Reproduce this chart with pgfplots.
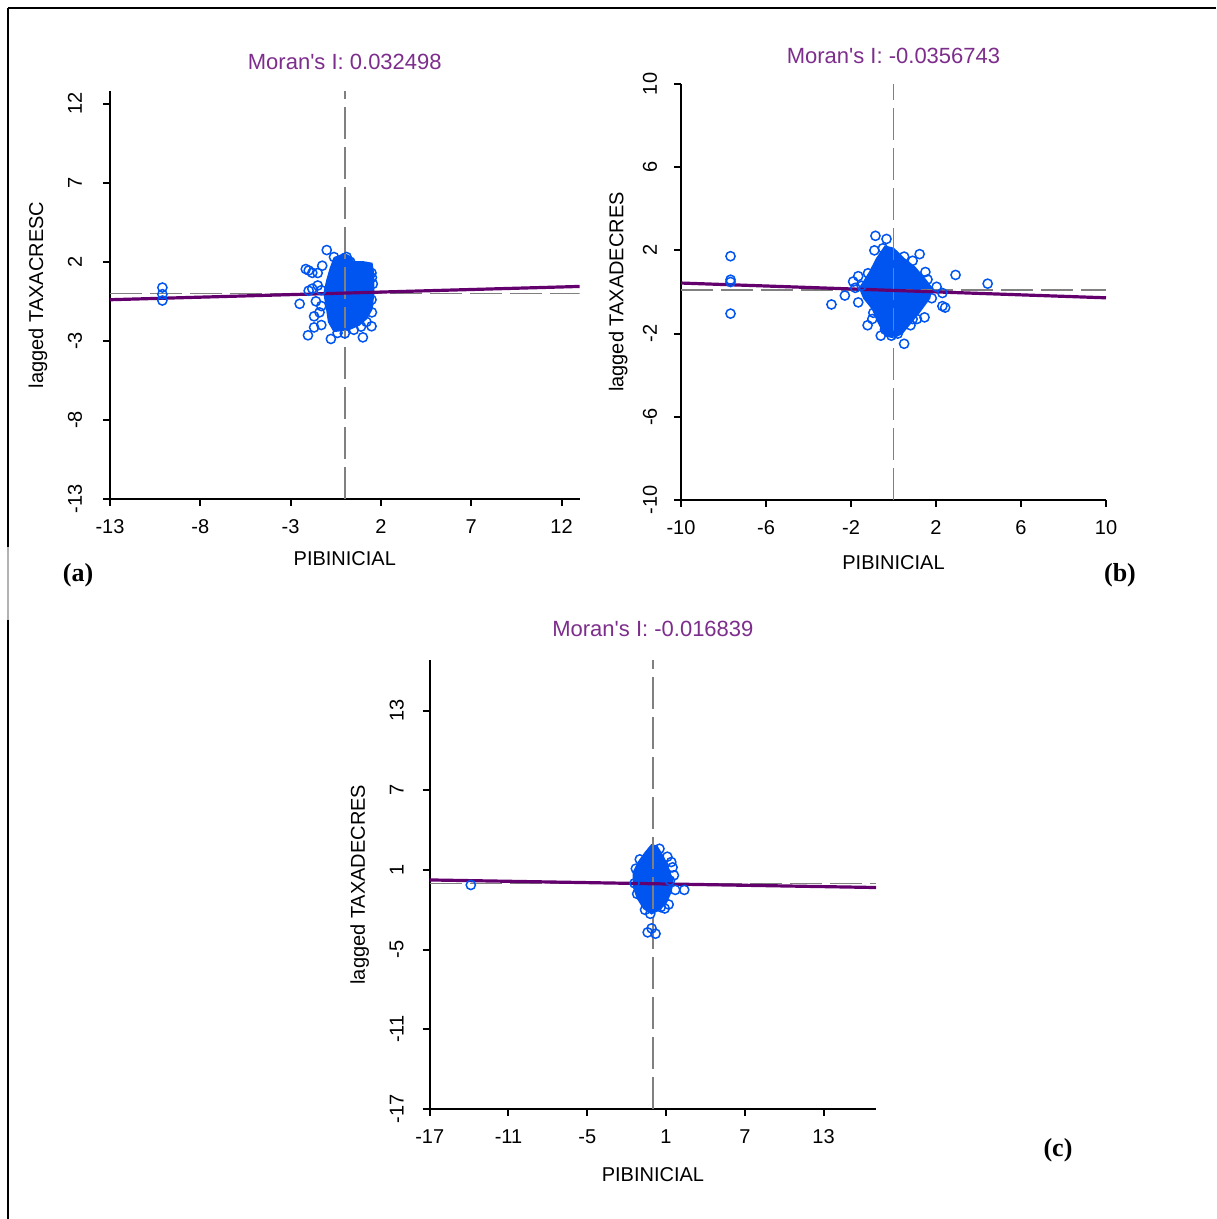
\documentclass[border=0pt]{standalone}
\usepackage{fontspec}
\setmainfont{Liberation Sans}
\newfontfamily\serifb{Liberation Serif}
\usepackage{pgfplots}
\pgfplotsset{compat=1.18}
\definecolor{ptblue}{RGB}{0,85,240}
\definecolor{regline}{RGB}{100,0,110}
\definecolor{ttl}{RGB}{125,45,140}
\definecolor{refgray}{RGB}{128,128,128}

\pgfplotsset{
  moran/.style={
    scale only axis,
    axis x line*=bottom, axis y line*=left,
    axis line style={-, line width=1pt},
    tick align=outside, major tick length=3.5pt,
    tick style={line width=1pt, black},
    /pgf/number format/assume math mode=true,
    tick label style={font=\fontsize{10}{12}\selectfont},
    label style={font=\fontsize{10}{12}\selectfont},
    title style={font=\fontsize{11}{13}\selectfont, text=ttl, at={(axis description cs:0.5,1)}, anchor=center},
    xlabel style={at={(axis description cs:0.5,0)}, anchor=center},
    xticklabel style={anchor=center, yshift=-10.5pt},
  },
  pts/.style={only marks, mark=o, mark size=2.3pt, ptblue, line width=0.75pt},
  blob/.style={fill=ptblue, draw=ptblue, line width=0.7pt},
  ref/.style={refgray, line width=0.75pt, dash pattern=on 16pt off 4pt},
  reg/.style={regline, line width=1.6pt},
}

\begin{document}
\begin{tikzpicture}
\useasboundingbox (0,0) rectangle (608pt,609.5pt);
% page frame
\draw[line width=1.2pt] (4pt,605.5pt) -- (608pt,605.5pt);
\draw[line width=1.2pt] (4pt,605.5pt) -- (4pt,336pt);
\draw[line width=0.6pt, gray!60] (4pt,336pt) -- (4pt,299.5pt);
\draw[line width=1.2pt] (4pt,299.5pt) -- (4pt,0pt);

% (a)
\begin{axis}[moran, at={(55pt,360pt)}, anchor=south west,
  width=234.8pt, height=204pt,
  xmin=-13, xmax=13, ymin=-13, ymax=12.8,
  xtick={-13,-8,-3,2,7,12}, ytick={-13,-8,-3,2,7,12},
  title={Moran\textquotesingle s I: 0.032498}, title style={yshift=8.5pt},
  xlabel={PIBINICIAL}, xlabel style={yshift=-30pt},
  ylabel={lagged TAXACRESC}, ylabel style={at={(axis description cs:-0.1533,0.5)}, anchor=center},
  yticklabel style={anchor=center, xshift=-14pt, rotate=90}]
\addplot[blob] coordinates {(-0.1,2.5)(0.2,2.4)(0.5,2.0)(1.0,2.0)(1.5,1.9)(1.6,1.2)(1.6,0.0)(1.5,-1.0)(1.2,-1.6)(0.8,-2.0)(0.2,-2.3)(-0.6,-2.4)(-0.9,-1.8)(-1.0,-1.0)(-1.15,0.0)(-1.0,0.8)(-0.8,1.6)(-0.6,2.2)} -- cycle;
\addplot[pts] coordinates {
(-10.1,0.37)(-10.1,-0.05)(-10.1,-0.45)
(-1.0,2.74)(-2.16,1.54)(-2.0,1.45)(-1.8,1.3)(-1.5,1.29)(-1.25,1.75)(-0.6,2.3)(-0.4,2.05)(0.1,2.3)(0.3,2.0)
(1.0,1.67)(1.3,1.5)(1.48,1.29)(1.5,1.0)(1.55,0.6)
(-2.0,0.17)(-1.8,0.3)(-1.5,0.5)(-1.3,0.2)(-2.5,-0.66)(-1.6,-0.5)(-1.3,-0.8)(-1.7,-1.45)(-1.4,-1.2)
(-1.7,-2.15)(-1.3,-2.0)(-2.04,-2.65)(-0.77,-2.88)(-0.4,-2.5)(0.0,-2.53)(0.5,-2.3)(1.0,-2.78)(1.48,-2.08)
(1.2,-1.8)(1.48,-0.4)(1.5,-1.2)(1.3,-0.7)(0.9,-2.1)};
\addplot[ref] coordinates {(0,-13)(0,12.8)};
\addplot[ref] coordinates {(-13,0)(13,0)};
\addplot[reg] coordinates {(-13,-0.40)(13,0.44)};
\end{axis}

% (b)
\begin{axis}[moran, at={(340.5pt,359.5pt)}, anchor=south west,
  width=212.5pt, height=208pt,
  xmin=-10, xmax=10, ymin=-10, ymax=10,
  xtick={-10,-6,-2,2,6,10}, ytick={-10,-6,-2,2,6,10},
  title={Moran\textquotesingle s I: -0.0356743}, title style={yshift=8pt},
  xlabel={PIBINICIAL}, xlabel style={yshift=-31.5pt},
  ylabel={lagged TAXADECRES}, ylabel style={at={(axis description cs:-0.148,0.5)}, anchor=center},
  yticklabel style={anchor=center, xshift=-12pt, rotate=90}]
\addplot[blob] coordinates {(-0.4,2.2)(0.0,2.1)(0.5,1.6)(1.0,1.2)(1.5,0.6)(1.8,0.2)(1.7,-0.3)(1.2,-1.0)(0.8,-1.5)(0.4,-2.0)(0.0,-2.2)(-0.4,-2.1)(-0.7,-1.5)(-1.0,-0.8)(-1.4,-0.3)(-1.6,0.2)(-1.4,0.5)(-1.1,1.0)(-0.8,1.6)} -- cycle;
\addplot[pts] coordinates {
(-7.67,1.72)(-7.67,0.59)(-7.67,0.48)(-7.67,-1.04)(2.92,0.82)(4.43,0.4)(-2.92,-0.6)(-2.29,-0.17)
(-1.22,-1.6)(0.5,-2.49)(-0.85,2.7)(-0.33,2.55)(-0.9,2.0)(-0.5,2.1)(0.5,1.7)(0.9,1.5)(1.23,1.82)
(-1.66,0.76)(-1.9,0.5)(-1.66,-0.5)(2.43,-0.75)(2.3,-0.68)(1.46,-1.22)(0.9,-1.3)(1.1,-1.3)(-0.95,-1.0)
(2.03,0.25)(2.3,-0.05)(1.5,0.96)(1.6,0.6)(-1.5,0.3)(-1.8,0.2)(-1.0,-1.3)(-0.4,-1.8)(-0.1,-2.1)
(0.2,-2.0)(0.8,-1.6)(1.8,-0.3)(-0.6,-2.1)(-1.2,0.9)};
\addplot[ref] coordinates {(0,-10)(0,10)};
\addplot[ref] coordinates {(-10,0.1)(10,0.1)};
\addplot[reg] coordinates {(-10,0.43)(10,-0.28)};
\end{axis}

% (c)
\begin{axis}[moran, at={(214.85pt,55.05pt)}, anchor=south west,
  width=223.2pt, height=224.3pt,
  xmin=-17, xmax=17, ymin=-17, ymax=16.8,
  xtick={-17,-11,-5,1,7,13}, ytick={-17,-11,-5,1,7,13},
  title={Moran\textquotesingle s I: -0.016839}, title style={yshift=9.5pt},
  xlabel={PIBINICIAL}, xlabel style={yshift=-33pt},
  ylabel={lagged TAXADECRES}, ylabel style={at={(axis description cs:-0.157,0.5)}, anchor=center},
  yticklabel style={anchor=center, xshift=-13pt, rotate=90}]
\addplot[blob] coordinates {(-0.1,2.9)(0.3,2.8)(0.8,2.0)(1.2,1.0)(1.5,0.3)(1.4,-0.6)(1.0,-1.5)(0.5,-2.0)(-0.1,-2.3)(-0.7,-1.9)(-1.2,-1.1)(-1.5,-0.2)(-1.5,0.8)(-1.1,1.6)(-0.6,2.3)} -- cycle;
\addplot[pts] coordinates {
(-13.87,-0.13)(2.39,-0.5)(-0.1,-3.4)(-0.4,-3.7)(0.2,-3.8)(-0.2,-2.3)(1.4,1.6)(1.5,1.2)(1.6,0.6)
(-1.3,1.1)(-1.4,0.0)(-1.0,1.8)(0.5,2.6)(1.7,-0.5)(1.2,-1.6)(0.6,-1.8)(-0.6,-2.0)(1.3,0.2)(-1.2,-0.8)
(0.9,-1.9)(1.1,2.0)};
\addplot[ref] coordinates {(0,-17)(0,16.8)};
\addplot[ref] coordinates {(-17,0)(17,0)};
\addplot[reg] coordinates {(-17,0.25)(17,-0.32)};
\end{axis}

\node[font=\serifb\bfseries\fontsize{13}{15}\selectfont] at (39pt,322pt) {(a)};
\node[font=\serifb\bfseries\fontsize{13}{15}\selectfont] at (560pt,322pt) {(b)};
\node[font=\serifb\bfseries\fontsize{13}{15}\selectfont] at (529pt,34.5pt) {(c)};
\end{tikzpicture}
\end{document}
